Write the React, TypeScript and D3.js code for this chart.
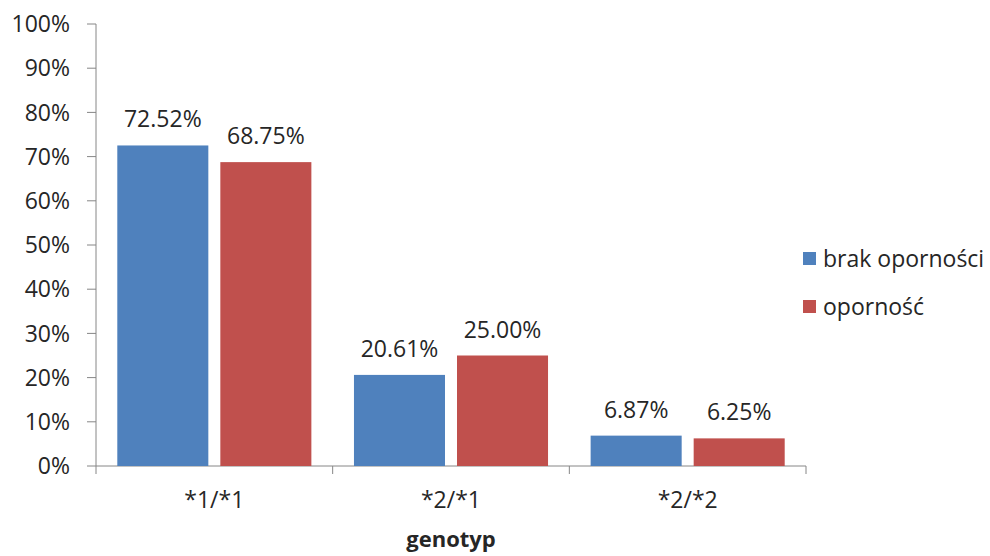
import React from "react";
import * as d3 from "d3";

const categories = ["*1/*1", "*2/*1", "*2/*2"];
const seriesNames = ["brak oporności", "oporność"];
const brakOpornosci = [72.52, 20.61, 6.87];
const opornosc = [68.75, 25.0, 6.25];
const yTicks = [0, 10, 20, 30, 40, 50, 60, 70, 80, 90, 100];
const colors = ["#4F81BD", "#C0504D"];

const W = 990;
const H = 556;
const font = "'Open Sans', 'Liberation Sans', sans-serif";
const fs = 23;
const ink = "#262626";

export default function App() {
  const x0 = 96;
  const x1 = 806;
  const y0 = 466;
  const y1 = 24;
  const x = d3.scaleBand<string>().domain(categories).range([x0, x1]).paddingInner(0).paddingOuter(0);
  const y = d3.scaleLinear().domain([0, 100]).range([y0, y1]);
  const series = [brakOpornosci, opornosc];
  const band = x.bandwidth();
  const sidePad = band * 0.09;
  const gap = 12;
  const barW = (band - 2 * sidePad - gap) / 2;

  return (
    <svg width={W} height={H} style={{ position: "absolute", left: 0, top: 0, background: "#fff" }}>
      {/* y axis */}
      <line x1={x0} x2={x0} y1={y1} y2={y0} stroke="#868686" strokeWidth={1} />
      {yTicks.map((t) => (
        <g key={t}>
          <line x1={x0 - 9} x2={x0} y1={y(t)} y2={y(t)} stroke="#868686" />
          <text x={70} y={y(t)} dy="0.36em" textAnchor="end" fontFamily={font} fontSize={fs} fill={ink}>
            {t}%
          </text>
        </g>
      ))}
      {/* x axis */}
      <line x1={x0} x2={x1} y1={y0} y2={y0} stroke="#868686" />
      {[x0, ...categories.map((c) => (x(c) as number) + band)].map((v, i) => (
        <line key={i} x1={v} x2={v} y1={y0} y2={y0 + 8} stroke="#868686" />
      ))}
      {categories.map((c) => (
        <text key={c} x={(x(c) as number) + band / 2} y={508} textAnchor="middle" fontFamily={font} fontSize={fs} fill={ink}>
          {c}
        </text>
      ))}
      <text x={451} y={547} textAnchor="middle" fontFamily={font} fontSize={22} fontWeight="bold" fill={ink}>
        genotyp
      </text>
      {/* bars */}
      {series.map((vals, si) =>
        vals.map((v, ci) => {
          const bx = (x(categories[ci]) as number) + sidePad + si * (barW + gap);
          return (
            <g key={`${si}-${ci}`}>
              <rect x={bx} y={y(v)} width={barW} height={y0 - y(v)} fill={colors[si]} />
              <text x={bx + barW / 2} y={y(v) - 18} textAnchor="middle" fontFamily={font} fontSize={fs} fill={ink}>
                {v.toFixed(2)}%
              </text>
            </g>
          );
        })
      )}
      {/* legend */}
      {seriesNames.map((n, i) => (
        <g key={n} transform={`translate(803, ${252 + i * 48})`}>
          <rect x={0} y={0} width={13} height={13} fill={colors[i]} />
          <text x={20} y={15} fontFamily={font} fontSize={fs} fill={ink}>
            {n}
          </text>
        </g>
      ))}
    </svg>
  );
}
